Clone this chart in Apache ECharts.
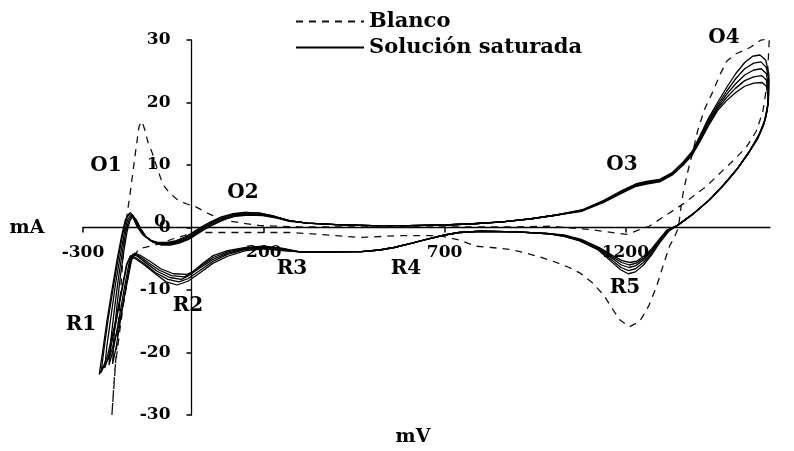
<!DOCTYPE html>
<html>
<head>
<meta charset="utf-8">
<script src="https://cdn.jsdelivr.net/npm/echarts@6/dist/echarts.min.js"></script>
<style>
  body { margin: 0; background: #fff; }
  #chart { width: 794px; height: 451px; }
</style>
</head>
<body>
<div id="chart"></div>
<script>
// tick labels
const xTicks = [-300, 200, 700, 1200]
const yTicks = [-30, -20, -10, 0, 10, 20, 30]

// Blanco (dashed), [mV, mA]
const blanco = [
  [-220, -30], [-203, -16], [-184, -0.3], [-170, 5.3], [-154, 12.4], [-145, 16.2], [-137, 17.0],
  [-130, 15.8], [-120, 13.6], [-109, 12.0], [-95, 9.5], [-79, 6.9], [-60, 5.5], [-40, 4.5],
  [-15, 3.8], [9, 3.4], [51, 2.1], [106, 1.0], [189, 0.3], [300, 0.1], [500, 0.1], [700, 0.1],
  [900, 0.1], [990, 0.2], [1100, -0.3], [1203, -1.1], [1266, 0.2], [1308, 1.8], [1358, 3.7],
  [1424, 6.6], [1460, 8.6], [1500, 10.8], [1535, 12.9], [1562, 15.4], [1580, 18.5], [1592, 23],
  [1598, 30.2],
  [1575, 30.0], [1545, 28.8], [1506, 27.8], [1480, 26.6], [1462, 24.5], [1440, 21.5], [1419, 18.9],
  [1400, 15.5], [1386, 12.0], [1372, 8.8], [1360, 5.6], [1352, 2.5], [1347, 0], [1336, -1.5],
  [1322, -3.0], [1305, -6.0], [1286, -9.5], [1265, -12.5], [1240, -15.0], [1211, -15.9],
  [1185, -14.8], [1164, -13.0], [1140, -10.8], [1108, -8.8], [1075, -7.3], [1045, -6.4],
  [1000, -5.4], [962, -4.7], [920, -4.0], [880, -3.5], [830, -3.2], [788, -3.0], [740, -2.0],
  [686, -1.3], [576, -1.3], [465, -1.6], [355, -1.1], [272, -0.8], [133, -0.8], [9, -0.8],
  [-50, -1.8], [-100, -2.8], [-145, -3.4], [-170, -5.5], [-178, -8.8], [-190, -13],
  [-198, -16.4], [-212, -22.8], [-220, -30]
]

// Solución saturada: parts that all cycles share
const anodicMid = [
  [320, 0.7], [400, 0.45], [500, 0.3], [600, 0.3], [700, 0.4], [780, 0.6], [860, 0.9], [940, 1.4], [1010, 2.0]
]
const cathodicMid = [
  [990, -1.0], [900, -0.7], [800, -0.6], [740, -0.8], [700, -1.2], [650, -1.9], [610, -2.5],
  [560, -3.2], [520, -3.6], [470, -3.85], [400, -3.9], [300, -3.9]
]

// low potential part of each cycle (R2, R1, O1, O2)
const cycle1Low = [
  [250, -3.7], [200, -3.4], [150, -3.7], [100, -4.6], [60, -5.7], [20, -7.4], [-10, -8.6], [-40, -9.2],
  [-70, -8.7], [-100, -7.4], [-130, -6.0], [-155, -5.0], [-170, -4.7], [-180, -6], [-195, -10.5],
  [-212, -15.5], [-232, -20.5], [-250, -23.2],
  [-242, -19.5], [-230, -14.5], [-216, -9.5], [-202, -4.8], [-190, -1.0], [-180, 1.4], [-170, 2.4],
  [-160, 1.8], [-148, 0.2], [-132, -1.2], [-112, -2.1], [-90, -2.5], [-65, -2.5], [-40, -2.2],
  [-15, -1.6], [5, -0.9], [30, 0], [55, 0.8], [85, 1.6], [115, 2.1], [150, 2.4], [190, 2.3],
  [230, 1.8], [270, 1.1]
]
const cycle2Low = [
  [250, -3.6], [200, -3.3], [150, -3.5], [100, -4.3], [60, -5.4], [20, -7.0], [-10, -8.2], [-35, -8.7],
  [-65, -8.3], [-100, -7.2], [-130, -5.8], [-155, -4.8], [-168, -4.5], [-178, -5.8], [-192, -10.0],
  [-208, -15.0], [-226, -20.0], [-240, -22.5],
  [-234, -19.0], [-222, -14.0], [-210, -9.0], [-197, -4.5], [-186, -1.0], [-177, 1.2], [-168, 2.0],
  [-158, 1.4], [-146, 0], [-130, -1.3], [-110, -2.2], [-88, -2.6], [-62, -2.6], [-38, -2.3],
  [-12, -1.7], [8, -1.0], [32, -0.1], [57, 0.7], [87, 1.5], [117, 2.0], [152, 2.2], [192, 2.1],
  [232, 1.7], [270, 1.1]
]
const cycle3Low = [
  [250, -3.5], [200, -3.2], [150, -3.4], [100, -4.1], [60, -5.1], [20, -6.6], [-10, -7.8], [-28, -8.3],
  [-60, -8.0], [-95, -7.0], [-125, -5.7], [-150, -4.6], [-163, -4.3], [-172, -5.5], [-185, -9.5],
  [-200, -14.5], [-216, -19.5], [-228, -22.0],
  [-224, -18.5], [-214, -13.5], [-203, -8.5], [-192, -4.2], [-182, -0.8], [-173, 1.2], [-165, 1.9],
  [-155, 1.3], [-143, -0.1], [-128, -1.4], [-108, -2.3], [-86, -2.7], [-60, -2.7], [-36, -2.4],
  [-10, -1.8], [10, -1.1], [34, -0.2], [60, 0.6], [90, 1.4], [120, 1.9], [155, 2.1], [195, 2.0],
  [235, 1.6], [270, 1.1]
]
const cycle4Low = [
  [250, -3.4], [200, -3.1], [150, -3.3], [100, -3.9], [60, -4.8], [25, -6.2], [0, -7.3], [-20, -7.9],
  [-55, -7.7], [-90, -6.8], [-120, -5.6], [-147, -4.5], [-160, -4.2], [-168, -5.2], [-180, -9.0],
  [-194, -14.0], [-208, -19.0], [-218, -21.8],
  [-215, -18.0], [-207, -13.0], [-197, -8.0], [-187, -3.8], [-178, -0.6], [-170, 1.1], [-162, 1.8],
  [-152, 1.2], [-140, -0.2], [-125, -1.5], [-105, -2.4], [-84, -2.8], [-58, -2.8], [-34, -2.5],
  [-8, -1.9], [12, -1.2], [36, -0.3], [62, 0.5], [92, 1.3], [122, 1.8], [157, 2.0], [197, 1.9],
  [237, 1.5], [270, 1.0]
]
const cycle5Low = [
  [250, -3.3], [200, -3.0], [150, -3.2], [100, -3.7], [60, -4.5], [30, -5.8], [5, -7.0], [-12, -7.5],
  [-50, -7.4], [-85, -6.6], [-115, -5.4], [-143, -4.4], [-157, -4.1], [-166, -5.3], [-182, -10.0],
  [-200, -15.5], [-225, -20.5], [-255, -23.5],
  [-246, -20.0], [-234, -15.0], [-220, -10.0], [-206, -5.2], [-193, -1.3], [-183, 1.2], [-173, 2.2],
  [-162, 1.6], [-150, 0.1], [-134, -1.2], [-114, -2.0], [-92, -2.4], [-67, -2.4], [-42, -2.1],
  [-17, -1.5], [3, -0.8], [28, 0.1], [53, 0.9], [83, 1.7], [113, 2.2], [148, 2.4], [188, 2.3],
  [228, 1.8], [270, 1.1]
]

// high potential part of each cycle (O3, O4, R5)
const cycle1High = [
  [1080, 2.8], [1140, 4.3], [1190, 5.9], [1230, 7.0], [1262, 7.4], [1295, 7.7], [1330, 8.8], [1360, 10.5],
  [1385, 12.2], [1405, 14.5], [1430, 17.5], [1455, 20.0], [1480, 22.4], [1505, 24.6], [1530, 26.4],
  [1552, 27.4], [1572, 27.6], [1588, 26.8], [1597, 24.5],
  [1596, 20.5], [1588, 17.5], [1573, 15.2], [1548, 12.6], [1515, 9.8], [1478, 7.2], [1438, 4.7],
  [1392, 2.4], [1350, 0.6], [1320, -0.6], [1298, -2.2], [1275, -4.2], [1250, -6.0], [1228, -7.1],
  [1208, -7.4], [1188, -6.8], [1162, -5.5], [1125, -3.6], [1075, -2.2], [1030, -1.4]
]
const cycle2High = [
  [1080, 2.8], [1140, 4.3], [1190, 5.8], [1230, 6.9], [1262, 7.3], [1295, 7.6], [1330, 8.7], [1360, 10.3],
  [1385, 12.0], [1405, 14.2], [1430, 17.2], [1455, 19.6], [1480, 21.8], [1505, 23.8], [1530, 25.4],
  [1555, 26.3], [1575, 26.5], [1590, 25.6], [1597, 23.5],
  [1595, 20.0], [1586, 17.2], [1570, 14.9], [1545, 12.4], [1512, 9.6], [1475, 7.0], [1435, 4.5],
  [1390, 2.3], [1348, 0.5], [1318, -0.6], [1297, -2.1], [1274, -4.0], [1250, -5.6], [1228, -6.6],
  [1209, -6.9], [1188, -6.4], [1162, -5.2], [1125, -3.5], [1075, -2.1], [1030, -1.4]
]
const cycle3High = [
  [1080, 2.7], [1140, 4.2], [1190, 5.7], [1230, 6.8], [1262, 7.2], [1295, 7.5], [1330, 8.6], [1360, 10.2],
  [1385, 11.9], [1405, 14.0], [1430, 16.9], [1455, 19.3], [1480, 21.3], [1505, 23.0], [1530, 24.4],
  [1555, 25.2], [1576, 25.4], [1590, 24.6], [1596, 22.5],
  [1594, 19.5], [1584, 16.9], [1568, 14.6], [1543, 12.2], [1510, 9.4], [1473, 6.9], [1432, 4.4],
  [1388, 2.2], [1346, 0.4], [1317, -0.5], [1296, -2.0], [1273, -3.8], [1250, -5.2], [1229, -6.1],
  [1210, -6.4], [1189, -6.0], [1163, -4.9], [1126, -3.4], [1076, -2.0], [1030, -1.3]
]
const cycle4High = [
  [1080, 2.7], [1140, 4.1], [1190, 5.6], [1230, 6.7], [1262, 7.1], [1295, 7.4], [1330, 8.5], [1360, 10.1],
  [1385, 11.8], [1405, 13.8], [1430, 16.6], [1455, 19.0], [1480, 20.8], [1505, 22.3], [1530, 23.5],
  [1555, 24.1], [1577, 24.3], [1590, 23.6], [1596, 21.5],
  [1593, 19.0], [1583, 16.6], [1566, 14.3], [1541, 12.0], [1508, 9.3], [1471, 6.8], [1430, 4.3],
  [1386, 2.1], [1344, 0.3], [1316, -0.5], [1296, -1.9], [1273, -3.6], [1251, -4.9], [1230, -5.7],
  [1211, -6.0], [1190, -5.6], [1164, -4.7], [1127, -3.3], [1077, -2.0], [1030, -1.3]
]
const cycle5High = [
  [1080, 2.6], [1140, 4.0], [1190, 5.5], [1230, 6.6], [1262, 7.0], [1295, 7.3], [1330, 8.4], [1360, 10.0],
  [1385, 11.6], [1405, 13.6], [1430, 16.3], [1455, 18.7], [1480, 20.3], [1505, 21.6], [1530, 22.6],
  [1555, 23.1], [1578, 23.2], [1590, 22.6], [1595, 20.8],
  [1592, 18.6], [1582, 16.3], [1565, 14.1], [1540, 11.8], [1506, 9.1], [1469, 6.6], [1428, 4.2],
  [1384, 2.0], [1342, 0.3], [1315, -0.4], [1295, -1.8], [1273, -3.4], [1251, -4.6], [1231, -5.4],
  [1212, -5.6], [1191, -5.3], [1165, -4.5], [1128, -3.2], [1078, -1.9], [1030, -1.2]
]

const cycles = [
  [cycle1Low, cycle1High],
  [cycle2Low, cycle2High],
  [cycle3Low, cycle3High],
  [cycle4Low, cycle4High],
  [cycle5Low, cycle5High]
]

// peak labels
const peakNames = ['O1', 'O2', 'O3', 'O4', 'R1', 'R2', 'R3', 'R4', 'R5']
const peakPos = [[106, 166], [243, 193], [622, 165], [724, 38], [81, 325], [188, 306], [292, 269], [406, 269], [625, 288]]

const FONT = '"DejaVu Serif", serif'

// plot box and axis ranges
const GRID = { left: 83, right: 24, top: 40, bottom: 36 }
const X_MIN = -300, X_MAX = 1600, Y_MIN = -30, Y_MAX = 30
const W = 794, H = 451
const plotW = W - GRID.left - GRID.right
const plotH = H - GRID.top - GRID.bottom
// move the axes so they cross at (0, 0), labels included
const xAxisOffset = -plotH * (0 - Y_MIN) / (Y_MAX - Y_MIN)
const yAxisOffset = -plotW * (0 - X_MIN) / (X_MAX - X_MIN)

const chart = echarts.init(document.getElementById('chart'))

const solidSeries = cycles.map(([low, high]) => ({
  name: 'Solución saturada',
  type: 'line',
  data: [...low, ...anodicMid, ...high, ...cathodicMid, low[0]],
  symbol: 'none',
  smooth: false,
  silent: true,
  itemStyle: { color: '#000' },
  lineStyle: { color: '#000', width: 1.3 }
}))

const labelText = (text, x, y, size) => ({
  type: 'text',
  x: x,
  y: y,
  silent: true,
  style: {
    text: text,
    fill: '#000',
    font: 'bold ' + size + 'px ' + FONT,
    textAlign: 'center',
    textVerticalAlign: 'middle',
    align: 'center',
    verticalAlign: 'middle'
  }
})

const option = {
  backgroundColor: '#fff',
  animation: false,
  grid: { ...GRID, containLabel: false, outerBoundsMode: 'none' },
  legend: {
    orient: 'vertical',
    left: 290,
    top: 6,
    itemWidth: 68,
    itemHeight: 14,
    itemGap: 5,
    selectedMode: false,
    data: ['Blanco', 'Solución saturada'],
    itemStyle: { opacity: 0 },
    textStyle: { color: '#000', fontFamily: FONT, fontWeight: 'bold', fontSize: 21 }
  },
  xAxis: {
    type: 'value',
    min: X_MIN,
    max: X_MAX,
    interval: 500,
    position: 'bottom',
    offset: xAxisOffset,
    axisLine: { onZero: false, lineStyle: { color: '#000', width: 1.3 } },
    axisTick: { show: true, length: 5, customValues: xTicks, lineStyle: { color: '#000', width: 1.5 } },
    axisLabel: {
      customValues: xTicks,
      formatter: v => String(v),
      margin: 17,
      color: '#000',
      fontFamily: FONT,
      fontWeight: 'bold',
      fontSize: 17
    },
    splitLine: { show: false }
  },
  yAxis: {
    type: 'value',
    min: Y_MIN,
    max: Y_MAX,
    interval: 10,
    position: 'left',
    offset: yAxisOffset,
    axisLine: { onZero: false, lineStyle: { color: '#000', width: 1.3 } },
    axisTick: { show: true, length: 5, customValues: yTicks, lineStyle: { color: '#000', width: 1.5 } },
    axisLabel: {
      customValues: yTicks,
      formatter: v => String(v),
      margin: 21,
      color: '#000',
      fontFamily: FONT,
      fontWeight: 'bold',
      fontSize: 17
    },
    splitLine: { show: false }
  },
  graphic: [
    labelText('mA', 27, 228, 19),
    labelText('mV', 413, 437, 19),
    labelText('0', 160, 222, 17),
    ...peakNames.map((n, i) => labelText(n, peakPos[i][0], peakPos[i][1], 20))
  ],
  series: [
    {
      name: 'Blanco',
      type: 'line',
      data: blanco,
      symbol: 'none',
      silent: true,
      itemStyle: { color: '#111' },
      lineStyle: { color: '#111', width: 1.3, type: [7, 6] }
    },
    ...solidSeries
  ]
}

chart.setOption(option)
</script>
</body>
</html>
